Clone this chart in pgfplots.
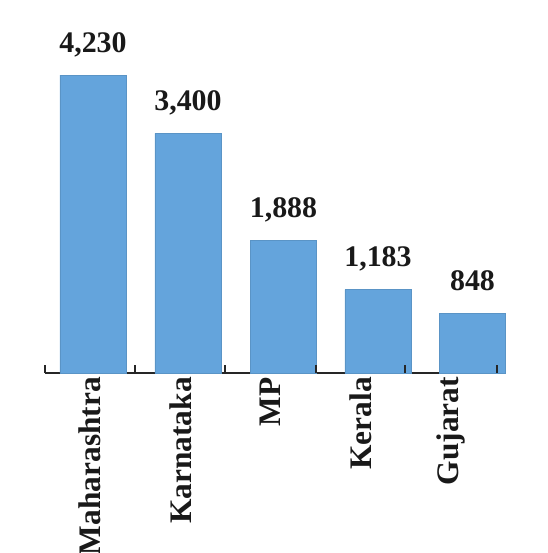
\documentclass[border=0pt]{standalone}
\usepackage{pgfplots}
\pgfplotsset{compat=1.18}
\usepackage{fontspec}
\setmainfont{Liberation Serif}
\definecolor{barblue}{RGB}{100,164,220}
\begin{document}
\begin{tikzpicture}
\begin{axis}[
  x=1bp, y=0.07045bp,
  xmin=45, xmax=497, ymin=0, ymax=4230,
  clip=false,
  axis y line=none,
  axis x line*=bottom,
  x axis line style={black!85, line width=1.3pt},
  xtick={90,180.5,270.5,360.5,451},
  xticklabels={Maharashtra,Karnataka,MP,Kerala,Gujarat},
  major tick length=0pt,
  xticklabel style={rotate=90, anchor=east, inner xsep=4bp, inner ysep=0pt,
    font=\fontsize{31.5}{36}\selectfont\bfseries, text=black!90},
  ybar, bar width=66,
  nodes near coords,
  point meta=explicit symbolic,
  every node near coord/.append style={anchor=base, inner sep=0pt, yshift=23bp,
    font=\fontsize{30}{36}\selectfont\bfseries, text=black!90},
]
\addplot[fill=barblue, draw=barblue!90!black, line width=0.5pt] table[meta=lab] {
x y lab
93 4230 4,230
188 3400 3,400
283.5 1888 1,888
378 1183 1,183
472.5 848 848
};
\pgfplotsinvokeforeach{45,135,225,316,405,497}{
  \draw[black!85, line width=1.2pt] (axis cs:#1,0) -- ++(0pt,8bp);
}
\coordinate (bl) at (axis cs:0,-2555);
\coordinate (tr) at (axis cs:548,5295);
\end{axis}
\pgfresetboundingbox
\path[use as bounding box] (bl) rectangle (tr);
\end{tikzpicture}
\end{document}
